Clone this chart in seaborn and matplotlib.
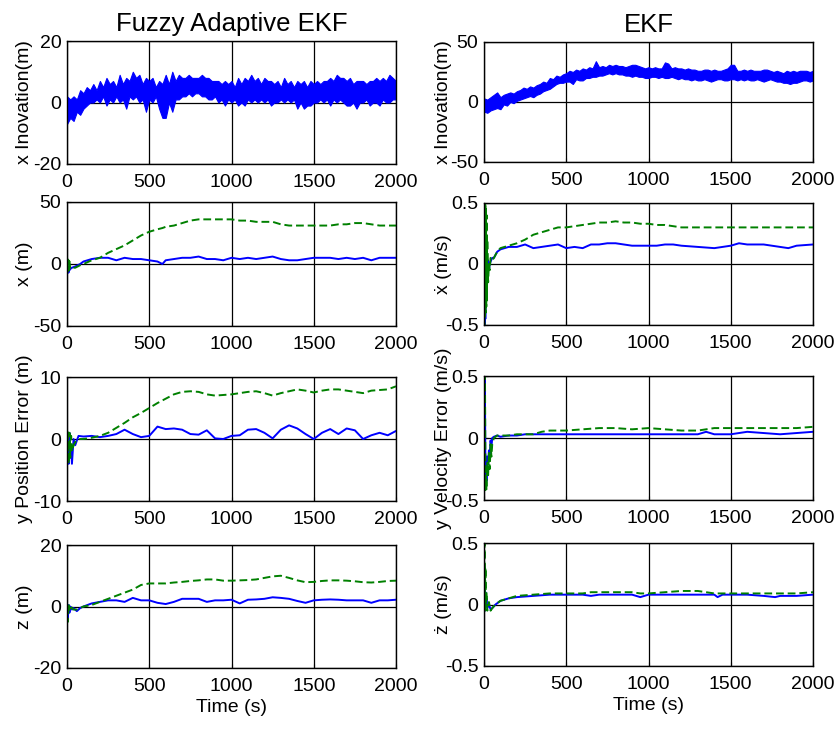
import numpy as np
import matplotlib
matplotlib.use("Agg")
import matplotlib.pyplot as plt
import seaborn as sns

sns.set_theme(style="white")
plt.rcParams['font.family'] = ['Liberation Sans', 'DejaVu Sans']

# ---------------- data ----------------
t_band = np.arange(0, 2001, 20)

# Fuzzy adaptive EKF x innovation (dense noise envelope)
fz_inno_hi = [2, 1, 2, 1, 4, 3, 5, 4, 6, 4,
              7, 5, 8, 6, 7, 5, 9, 6, 8, 7,
              10, 8, 9, 6, 8, 7, 8, 5, 7, 6,
              9, 6, 10, 7, 9, 8, 8, 9, 8, 8,
              8, 9, 8, 8, 7, 7, 7, 6, 7, 6,
              7, 5, 8, 6, 8, 7, 9, 7, 8, 6,
              8, 7, 7, 6, 7, 5, 8, 6, 7, 5,
              7, 6, 7, 5, 7, 6, 7, 6, 7, 7,
              8, 7, 9, 8, 8, 7, 8, 6, 7, 7,
              7, 6, 7, 7, 8, 7, 8, 7, 9, 8,
              7]
fz_inno_lo = [-7, -5, -6, -3, -4, -2, -1, 0, 0, 1,
              0, 2, -1, 1, 0, 2, 0, 1, -2, 2,
              1, 2, 0, 1, -3, 1, 0, 2, -2, -5,
              -5, 0, -3, 1, 1, 2, 2, 3, 2, 3,
              3, 2, 2, 1, 1, 2, 0, 1, -1, 1,
              0, 1, -1, 0, -1, 1, 0, 1, 0, 1,
              0, 1, -1, 0, 0, 1, 0, 1, 0, 1,
              -2, 0, -2, -1, -1, 0, 0, 1, 0, 1,
              -1, 1, 0, 1, 0, -1, -1, 0, -2, 0,
              0, 1, -1, 0, 0, -1, 1, 0, 0, 1,
              1]

# EKF x innovation (dense noise envelope)
ekf_inno_hi = [3, 2, 4, 6, 8, 4, 6, 7, 8, 7,
               9, 10, 12, 11, 13, 12, 14, 15, 17, 16,
               20, 19, 22, 21, 23, 24, 26, 25, 27, 26,
               28, 27, 29, 28, 34, 29, 30, 29, 31, 30,
               31, 30, 30, 29, 30, 31, 31, 30, 29, 28,
               29, 28, 29, 28, 28, 33, 32, 28, 29, 28,
               28, 27, 28, 27, 27, 26, 26, 27, 27, 26,
               27, 26, 26, 27, 28, 31, 31, 26, 26, 27,
               26, 27, 26, 26, 26, 27, 27, 26, 25, 26,
               25, 24, 26, 25, 26, 25, 26, 26, 26, 25,
               26]
ekf_inno_lo = [-8, -9, -7, -6, -5, -6, -2, -3, 0, -1,
               1, 2, 3, 4, 5, 4, 6, 7, 9, 10,
               11, 13, 15, 16, 16, 17, 17, 15, 19, 18,
               18, 20, 20, 21, 21, 22, 22, 23, 24, 23,
               24, 23, 23, 22, 22, 21, 22, 21, 21, 20,
               20, 21, 21, 20, 21, 20, 20, 21, 20, 19,
               20, 19, 19, 18, 19, 18, 18, 19, 18, 17,
               18, 19, 19, 18, 18, 19, 19, 18, 19, 18,
               19, 18, 18, 19, 18, 17, 18, 19, 18, 17,
               17, 16, 16, 15, 16, 16, 17, 18, 18, 17,
               18]

# Fuzzy x position error
t3 = [0, 3, 6, 9, 12, 15, 20, 30, 50, 80, 100, 150, 200, 250, 300, 350, 400, 450, 500, 550,
      580, 600, 650, 700, 750, 800, 850, 900, 950, 1000, 1050, 1100, 1150, 1200, 1250, 1300, 1350, 1400, 1450, 1500,
      1550, 1600, 1650, 1700, 1750, 1800, 1850, 1900, 1950, 2000]
x_ekf = [0, 4, -6, 3, -5, 2, -4, -3, -3, -1, 0, 3, 5, 9, 12, 15, 19, 23, 26, 28,
         29, 30, 31, 33, 35, 36, 36, 36, 36, 36, 35, 35, 34, 34, 34, 32, 31, 31, 31, 31,
         31, 31, 32, 32, 33, 33, 32, 31, 31, 31]
x_fz = [0, -6, -2, -7, -3, -5, -4, -3, -2, 0, 2, 4, 5, 5, 3, 5, 4, 4, 3, 2,
        0, 3, 4, 5, 5, 6, 4, 4, 3, 5, 4, 5, 4, 5, 6, 4, 3, 3, 4, 5,
        5, 5, 4, 5, 4, 5, 3, 5, 5, 5]

# EKF x velocity error
t4 = [0, 2, 4, 6, 8, 10, 12, 14, 16, 18, 20, 25, 30, 35, 40, 50, 60, 80, 100, 150,
      200, 250, 300, 350, 400, 450, 500, 550, 600, 650, 700, 750, 800, 850, 900, 950, 1000, 1050, 1100, 1150,
      1200, 1300, 1400, 1500, 1550, 1600, 1700, 1800, 1850, 1900, 2000]
vx_ekf = [0.5, -0.5, 0.5, -0.45, 0.5, -0.4, 0.45, -0.35, 0.4, -0.3, 0.2, -0.15, 0.0, -0.05, 0.05, 0.03, 0.05, 0.1, 0.13, 0.15,
          0.17, 0.2, 0.24, 0.26, 0.28, 0.3, 0.3, 0.31, 0.32, 0.33, 0.34, 0.34, 0.35, 0.34, 0.34, 0.33, 0.33, 0.32, 0.32, 0.31,
          0.3, 0.3, 0.3, 0.3, 0.3, 0.3, 0.3, 0.3, 0.3, 0.3, 0.3]
vx_fz = [-0.2, 0.5, -0.5, 0.5, -0.45, 0.3, -0.3, 0.1, -0.2, 0.0, -0.1, 0.03, -0.05, 0.0, 0.02, 0.05, 0.05, 0.1, 0.12, 0.14,
         0.14, 0.16, 0.13, 0.14, 0.15, 0.16, 0.13, 0.14, 0.13, 0.16, 0.16, 0.17, 0.17, 0.16, 0.15, 0.15, 0.15, 0.15, 0.16, 0.16,
         0.15, 0.14, 0.13, 0.15, 0.17, 0.16, 0.16, 0.14, 0.13, 0.15, 0.16]

# Fuzzy y position error
t5 = [0, 5, 10, 15, 20, 25, 30, 40, 50, 70, 100, 150, 200, 250, 300, 350, 400, 450, 500, 550,
      600, 650, 700, 750, 800, 850, 900, 950, 1000, 1050, 1100, 1150, 1200, 1250, 1300, 1350, 1400, 1450, 1500, 1550,
      1600, 1650, 1700, 1750, 1800, 1850, 1900, 1950, 2000]
y_ekf = [0, 1.5, -4, 1, -3, 0.5, -2, -1, -0.5, 0, 0, 0.2, 0.5, 1.0, 1.8, 2.6, 3.5, 4.2, 5.0, 5.8,
         6.5, 7.2, 7.6, 7.7, 7.6, 7.2, 7.0, 7.1, 7.2, 7.4, 7.6, 7.7, 7.4, 7.0, 7.4, 7.7, 8.0, 7.8, 7.5, 7.8,
         8.0, 8.0, 7.8, 7.6, 7.4, 7.8, 7.9, 8.0, 8.5]
y_fz = [0, -2, -4, 1, -3, -1, -4, 0, -1, 0.5, 0.4, 0.5, 0.3, 0.5, 0.8, 1.5, 0.8, 0.3, 0.5, 2.0,
        1.6, 1.7, 1.5, 0.8, 0.7, 1.4, 0.1, 0.0, 0.5, 0.6, 1.5, 1.6, 1.0, 0.1, 1.5, 2.2, 1.7, 0.8, 0.0, 1.0,
        1.6, 0.8, 1.7, 1.4, 0.0, 0.6, 1.0, 0.6, 1.3]

# EKF y velocity error
t6 = [0, 3, 6, 9, 12, 15, 20, 25, 30, 35, 40, 45, 50, 60, 80, 100, 150, 200, 250, 300,
      350, 400, 500, 600, 700, 800, 900, 1000, 1100, 1200, 1300, 1350, 1400, 1500, 1600, 1700, 1800, 1900, 2000]
vy_ekf = [0.0, 0.5, 0.5, -0.42, -0.3, -0.42, -0.2, -0.3, -0.12, -0.25, -0.05, -0.15, -0.05, 0.0, 0.02, 0.02, 0.02, 0.03, 0.03, 0.03,
          0.05, 0.06, 0.06, 0.07, 0.08, 0.08, 0.07, 0.08, 0.07, 0.06, 0.06, 0.07, 0.08, 0.08, 0.08, 0.08, 0.08, 0.08, 0.09]
vy_fz = [0.0, 0.5, 0.3, -0.3, -0.15, -0.35, -0.15, -0.2, -0.1, -0.15, -0.02, -0.08, 0.0, 0.01, 0.02, 0.01, 0.02, 0.02, 0.03, 0.03,
         0.03, 0.03, 0.03, 0.03, 0.03, 0.03, 0.03, 0.03, 0.03, 0.03, 0.03, 0.05, 0.03, 0.03, 0.05, 0.04, 0.03, 0.04, 0.05]

# Fuzzy z position error
t7 = [0, 5, 10, 15, 20, 30, 40, 60, 80, 100, 150, 200, 250, 300, 350, 400, 450, 500, 550, 600,
      650, 700, 750, 800, 850, 900, 950, 1000, 1050, 1100, 1150, 1200, 1250, 1300, 1350, 1400, 1450, 1500, 1550, 1600,
      1650, 1700, 1750, 1800, 1850, 1900, 1950, 2000]
z_ekf = [0, -5, 1, -1, 0.5, -0.5, -1, -1, -0.5, 0, 0.5, 1.5, 2.5, 3.5, 4.5, 5.5, 7.0, 7.5, 7.5, 7.5,
         7.8, 8.0, 8.3, 8.5, 8.8, 8.8, 8.4, 8.4, 8.5, 8.6, 8.8, 9.3, 9.8, 10.0, 9.3, 8.5, 7.9, 8.0, 8.3, 8.5,
         8.5, 8.4, 8.2, 7.9, 7.8, 8.0, 8.3, 8.4]
z_fz = [0, -4, 0.5, -2, 0, -1, -0.5, -1.5, -0.5, 0, 1, 1.5, 2.0, 2.0, 1.5, 2.8, 2.0, 2.0, 1.2, 0.8,
        1.5, 2.5, 2.5, 2.5, 1.5, 2.0, 2.0, 2.2, 1.0, 2.2, 2.3, 2.5, 3.0, 2.8, 2.5, 1.8, 1.2, 2.0, 2.2, 2.3,
        2.2, 2.0, 2.0, 2.0, 1.2, 2.0, 2.0, 2.2]

# EKF z velocity error
t8 = [0, 3, 6, 9, 12, 15, 20, 30, 40, 50, 70, 100, 150, 200, 300, 400, 500, 600, 650, 700,
      800, 900, 950, 1000, 1100, 1200, 1300, 1400, 1420, 1450, 1500, 1600, 1700, 1770, 1800, 1900, 2000]
vz_ekf = [0, 0.5, -0.05, 0.3, 0.0, 0.1, -0.05, 0.02, -0.05, -0.03, 0.0, 0.03, 0.05, 0.07, 0.08, 0.09, 0.09, 0.09, 0.10, 0.10,
          0.10, 0.10, 0.09, 0.09, 0.10, 0.11, 0.11, 0.09, 0.09, 0.09, 0.09, 0.09, 0.09, 0.09, 0.09, 0.09, 0.10]
vz_fz = [0, 0.3, -0.05, 0.1, 0.0, 0.05, -0.03, 0.0, -0.04, -0.03, 0.0, 0.03, 0.05, 0.06, 0.07, 0.08, 0.08, 0.08, 0.07, 0.08,
         0.08, 0.08, 0.06, 0.08, 0.08, 0.08, 0.08, 0.08, 0.06, 0.08, 0.08, 0.08, 0.07, 0.06, 0.07, 0.07, 0.08]

x_ticks = [0, 500, 1000, 1500, 2000]
ylabels_left = ["x Inovation(m)", "x (m)", "y Position Error (m)", "z (m)"]
ylabels_right = ["x Inovation(m)", "\u1e8b (m/s)", "y Velocity Error (m/s)", "\u017c (m/s)"]
ylims_left = [(-20, 20), (-50, 50), (-10, 10), (-20, 20)]
ylims_right = [(-50, 50), (-0.5, 0.5), (-0.5, 0.5), (-0.5, 0.5)]
ytick_left = [["-20", "0", "20"], ["-50", "0", "50"], ["-10", "0", "10"], ["-20", "0", "20"]]
ytick_right = [["-50", "0", "50"], ["-0.5", "0", "0.5"], ["-0.5", "0", "0.5"], ["-0.5", "0", "0.5"]]

BLUE = "#0000FF"
GREEN = "#008000"

W, H = 839, 729
fig = plt.figure(figsize=(W / 100, H / 100), dpi=100)

rows_left = [(41, 164), (202, 326), (377, 501), (545, 668)]
rows_right = [(42, 162), (203, 325), (376, 500), (543, 666)]
cols = [(67, 396), (484, 813)]

def make_ax(col, row):
    x0, x1 = cols[col]
    top, bot = (rows_left if col == 0 else rows_right)[row]
    return fig.add_axes([x0 / W, 1 - bot / H, (x1 - x0) / W, (bot - top) / H])

axes = [[make_ax(c, r) for c in range(2)] for r in range(4)]

# Row 1: innovations (dense noise drawn as envelope)
ax = axes[0][0]
ax.fill_between(t_band, fz_inno_lo, fz_inno_hi, color=BLUE, lw=0.8, zorder=3)
ax = axes[0][1]
ax.fill_between(t_band, ekf_inno_lo, ekf_inno_hi, color=BLUE, lw=0.8, zorder=3)

pairs = [
    (axes[1][0], t3, x_fz, x_ekf),
    (axes[1][1], t4, vx_fz, vx_ekf),
    (axes[2][0], t5, y_fz, y_ekf),
    (axes[2][1], t6, vy_fz, vy_ekf),
    (axes[3][0], t7, z_fz, z_ekf),
    (axes[3][1], t8, vz_fz, vz_ekf),
]
for ax, t, fz, ek in pairs:
    sns.lineplot(x=t, y=fz, ax=ax, color=BLUE, lw=1.4, zorder=3, estimator=None)
    sns.lineplot(x=t, y=ek, ax=ax, color=GREEN, lw=1.4, zorder=4, estimator=None,
                 dashes=False, linestyle=(0, (4, 2)))

for r in range(4):
    for c in range(2):
        ax = axes[r][c]
        lo, hi = (ylims_left if c == 0 else ylims_right)[r]
        labs = (ytick_left if c == 0 else ytick_right)[r]
        ax.set_xlim(0, 2000)
        ax.set_ylim(lo, hi)
        ax.set_xticks(x_ticks)
        ax.set_xticklabels([str(v) for v in x_ticks])
        ax.set_yticks([lo, 0, hi])
        ax.set_yticklabels(labs)
        ax.grid(True, color="black", lw=0.9, zorder=1)
        ax.set_axisbelow(True)
        ax.tick_params(direction="in", length=3, width=0.8, labelsize=14,
                       colors="black", bottom=True, left=True)
        ax.tick_params(axis="x", pad=7)
        ax.tick_params(axis="y", pad=4)
        for s in ax.spines.values():
            s.set_color("black")
            s.set_linewidth(1.0)
            s.set_zorder(5)
        ax.set_facecolor("white")
        lab = (ylabels_left if c == 0 else ylabels_right)[r]
        ax.set_ylabel(lab, fontsize=14, color="black")
        ax.yaxis.set_label_coords(-0.103 if c == 0 else -0.097, 0.5)
        ax.set_xlabel("")

axes[0][0].set_title("Fuzzy Adaptive EKF", fontsize=18.5, pad=7, color="black")
axes[0][1].set_title("EKF", fontsize=18.5, pad=7, color="black")
axes[3][0].set_xlabel("Time (s)", fontsize=14, color="black", labelpad=3)
axes[3][1].set_xlabel("Time (s)", fontsize=14, color="black", labelpad=3)

fig.savefig("out.png", dpi=100, facecolor="white")
